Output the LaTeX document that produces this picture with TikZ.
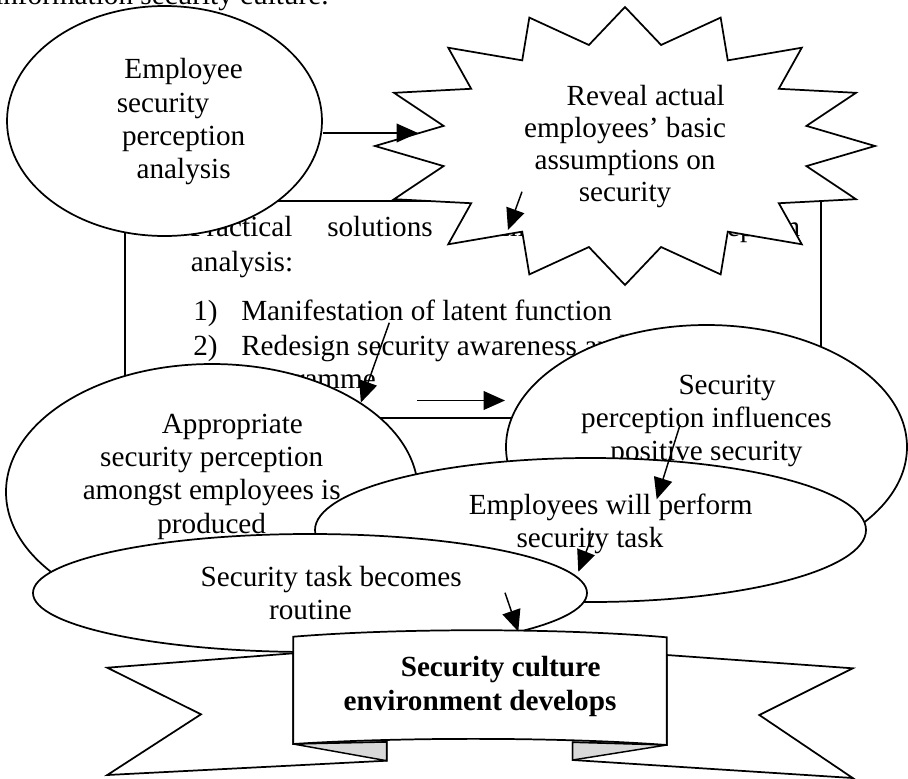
\documentclass[tikz,border=0pt]{standalone}
\usepackage{fontspec}
\setmainfont{Liberation Serif}
\usetikzlibrary{arrows.meta,shapes.geometric}
\newlength\pxu
\setlength\pxu{0.75pt}
\newcommand\ldsp{\hspace*{31pt}}
\begin{document}
\begin{tikzpicture}[x=0.75pt,y=-0.75pt,
  txt/.style={font=\fontsize{21.9pt}{25pt}\selectfont, align=center, inner sep=0pt},
  btxt/.style={txt, font=\fontsize{21.9pt}{25pt}\selectfont\bfseries},
  shp/.style={draw, line width=1.3pt, fill=white},
  oval/.style={shp, ellipse, inner sep=0pt},
  boxline/.style={draw, line width=1pt, inner sep=0pt},
  arr/.style={-{Triangle[length=16pt,width=14pt]}, line width=1.1pt},
  fold/.style={draw, line width=1.1pt, fill=black!15}]
\useasboundingbox (0,0) rectangle (908,779);
\fill[white] (0,0) rectangle (908,779);
\node[txt, anchor=base west] (toptext) at (-5,4) {information security culture.};

% practical solutions box
\node[boxline, minimum width=696\pxu, minimum height=217\pxu] (box) at (473,309.5) {};
\node[txt, anchor=base west] (p1) at (190,236.7) {Practical};
\node[txt, anchor=base west] (p2) at (327,236.7) {solutions};
\node[txt, anchor=base west] (p3) at (468,236.7) {from};
\node[txt, anchor=base west] (p4) at (676.7,236.7) {perception};
\node[txt, anchor=base west] (p5) at (190.7,271.7) {analysis:};
\node[txt, anchor=base west] (l1n) at (193,320) {1)};
\node[txt, anchor=base west] (l1) at (241,320) {Manifestation of latent function};
\node[txt, anchor=base west] (l2n) at (193,355) {2)};
\node[txt, anchor=base west] (l2) at (241,355) {Redesign security awareness and training};
\node[txt, anchor=base west] (l3) at (241,388) {programme};

% employee security perception analysis
\node[oval, minimum width=315\pxu, minimum height=230\pxu] (e1) at (164.5,121) {};
\node[txt] (t1) at (163,122) {\ldsp Employee\\security\\\ldsp perception\\\ldsp analysis};

% star
\draw[shp] (625,7) \foreach \k in {0,...,15} {
   -- ({625+185*cos(101.25+22.5*\k)},{146-103*sin(101.25+22.5*\k)})
   -- ({625+250*cos(112.5+22.5*\k)},{146-139*sin(112.5+22.5*\k)}) } -- cycle;
\coordinate (sc) at (625,146);
\node[txt, font=\fontsize{21.9pt}{24pt}\selectfont] (trev) at (625,147) {\ldsp Reveal actual\\employees’ basic\\assumptions on\\security};

% lower ellipses
\node[oval, minimum width=412\pxu, minimum height=256\pxu] (e2) at (212,492) {};
\node[txt] (t2) at (211.7,476.7) {\ldsp Appropriate\\security perception\\amongst employees is\\produced};
\node[oval, minimum width=401\pxu, minimum height=244\pxu] (e3) at (706.5,447) {};
\node[txt] (t3) at (706.5,421) {\ldsp Security\\perception influences\\positive security};
\node[oval, minimum width=551\pxu, minimum height=144\pxu] (e4) at (590.5,530) {};
\node[txt] (t4) at (590,523.7) {\ldsp Employees will perform\\security task};
\node[oval, minimum width=554\pxu, minimum height=118\pxu] (e5) at (310,593) {};
\node[txt] (t5) at (310.5,593.3) {\ldsp Security task becomes\\routine};

% banner
\draw[shp] (293.3,653.3) -- (107.3,667.7) -- (201,714.3) -- (107.3,775) -- (386.7,760.7) -- (386.7,742) -- (293.3,744) -- cycle;
\draw[fold] (293.3,744) -- (386.7,742) -- (386.7,760.7) -- cycle;
\draw[shp] (666.7,655) -- (852.7,668.3) -- (759.3,715) -- (852.7,778) -- (572.7,760) -- (572.7,742.3) -- (666.7,745) -- cycle;
\draw[fold] (572.7,742.3) -- (666.7,745) -- (572.7,760) -- cycle;
\draw[shp] (293.3,636.7) .. controls (400,628) and (560,628) .. (666.7,637.3) -- (666.7,745) .. controls (560,737) and (400,737) .. (293.3,744) -- cycle;
\node[btxt] (tban) at (480,686.5) {\ldsp Security culture\\environment develops};

% connectors
\coordinate (a1e) at (418,133);
\draw[arr] (e1.east |- a1e) -- (a1e);
\coordinate (a2s) at (522,191.7);
\coordinate (a2e) at (508,230);
\draw[arr] (a2s) -- (a2e);
\coordinate (a3s) at (389.3,322.7);
\draw[arr] (a3s) -- (e2.31);
\coordinate (a4s) at (417,400.5);
\coordinate (a4e) at (505,400.5);
\draw[arr] (a4s) -- (a4e);
\coordinate (a5s) at (680,425);
\coordinate (a5e) at (656.7,499.3);
\draw[arr] (a5s) -- (a5e);
\coordinate (a6s) at (593.3,533.3);
\coordinate (a6e) at (578.3,571.7);
\draw[arr] (a6s) -- (a6e);
\coordinate (a7s) at (505,592.7);
\coordinate (ptop) at (518.3,631.5);
\draw[arr] (a7s) -- (ptop);
\end{tikzpicture}
\end{document}
